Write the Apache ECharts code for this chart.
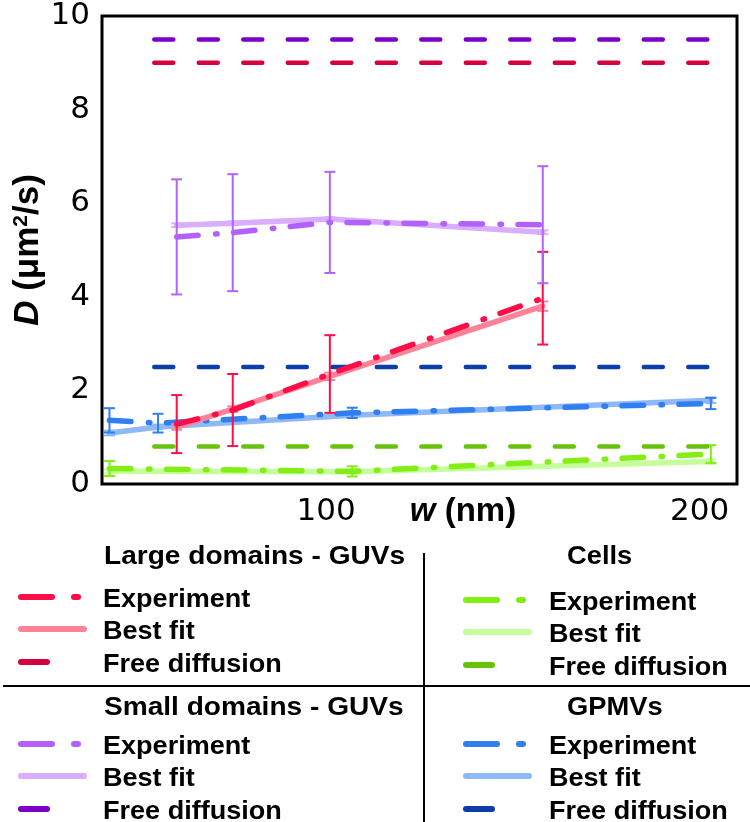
<!DOCTYPE html>
<html>
<head>
<meta charset="utf-8">
<script src="https://cdn.jsdelivr.net/npm/echarts@6/dist/echarts.min.js"></script>
<style>
html, body { margin: 0; padding: 0; background: #fff; }
#chart { width: 750px; height: 822px; }
</style>
</head>
<body>
<div id="chart"></div>
<script>
// w (nm) where each system was measured
const wGUV = [60, 75, 101, 158];
const wCells = [42, 107, 203];
const wGPMV = [42, 55, 107, 203];
const wFree = [54, 203];

// Large domains - GUVs
const largeExp = [1.28, 1.58, 2.35, 3.97];
const largeExpErr = [0.62, 0.77, 0.83, 0.99];
const largeFit = [1.22, 1.6, 2.3, 3.8];
const largeFitErr = [0.06, 0.06, 0.08, 0.1];
const largeFree = 9.0;

// Small domains - GUVs
const smallExp = [5.28, 5.37, 5.59, 5.54];
const smallExpErr = [1.23, 1.25, 1.08, 1.25];
const smallFit = [5.53, 5.57, 5.66, 5.38];
const smallFitErr = [0.04, 0.04, 0.04, 0.04];
const smallFree = 9.5;

// Cells
const cellExp = [0.33, 0.27, 0.64];
const cellExpErr = [0.16, 0.11, 0.19];
const cellFit = [0.27, 0.26, 0.48];
const cellFitErr = [0.04, 0.04, 0.05];
const cellFree = 0.8;

// GPMVs
const gpmvExp = [1.36, 1.3, 1.52, 1.72];
const gpmvExpErr = [0.26, 0.2, 0.11, 0.12];
const gpmvFit = [1.09, 1.22, 1.47, 1.79];
const gpmvFitErr = [0.05, 0.05, 0.05, 0.06];
const gpmvFree = 2.5;

const yTicks = [0, 2, 4, 6, 8, 10];
const xTickLabels = [100, 200];

const legendItems = ['Experiment', 'Best fit', 'Free diffusion'];
const legendTitles = ['Large domains - GUVs', 'Cells', 'Small domains - GUVs', 'GPMVs'];

// exp, fit, free colours per group
const colors = {
  large: ['#ff0d47', '#ff8299', '#d6003e'],
  small: ['#b261ff', '#d9adff', '#7a00c9'],
  cells: ['#82ee14', '#c4ff9a', '#66c30a'],
  gpmv: ['#2f7ff0', '#8eb8f6', '#0b3ea8']
};

const EXP_DASH = [21.5, 17.5, 1.5, 16.5];
const FREE_DASH = [19, 25.5];

function line(name, xs, ys, color, width, dash, z) {
  return {
    name, type: 'line', silent: true, z, symbol: 'none', animation: false,
    data: xs.map((x, i) => [x, ys[i]]),
    lineStyle: { color, width, type: dash || 'solid', cap: 'round' }
  };
}

function errBars(xs, ys, errs, color, z) {
  return {
    type: 'custom', silent: true, z, animation: false,
    data: xs.map((x, i) => [x, ys[i] - errs[i], ys[i] + errs[i]]),
    encode: { x: 0, y: [1, 2] },
    renderItem: (params, api) => {
      const top = api.coord([api.value(0), api.value(2)]);
      const bot = api.coord([api.value(0), api.value(1)]);
      const hw = 5.5;
      const style = { stroke: color, lineWidth: 2 };
      return {
        type: 'group',
        children: [
          { type: 'line', shape: { x1: top[0], y1: top[1], x2: bot[0], y2: bot[1] }, style },
          { type: 'line', shape: { x1: top[0] - hw, y1: top[1], x2: top[0] + hw, y2: top[1] }, style },
          { type: 'line', shape: { x1: bot[0] - hw, y1: bot[1], x2: bot[0] + hw, y2: bot[1] }, style }
        ]
      };
    }
  };
}

function group(key, xs, exp, expErr, fit, fitErr, free, z) {
  const c = colors[key];
  return [
    line(key + ' fit', xs, fit, c[1], 5.5, null, z),
    errBars(xs, fit, fitErr, c[1], z),
    line(key + ' exp', xs, exp, c[0], 5.5, EXP_DASH, z + 1),
    errBars(xs, exp, expErr, c[0], z + 1),
    line(key + ' free', wFree, [free, free], c[2], 4.5, FREE_DASH, z + 1)
  ];
}

const series = [
  ...group('cells', wCells, cellExp, cellExpErr, cellFit, cellFitErr, cellFree, 2),
  ...group('gpmv', wGPMV, gpmvExp, gpmvExpErr, gpmvFit, gpmvFitErr, gpmvFree, 4),
  ...group('large', wGUV, largeExp, largeExpErr, largeFit, largeFitErr, largeFree, 6),
  ...group('small', wGUV, smallExp, smallExpErr, smallFit, smallFitErr, smallFree, 8)
];

// legend drawn as graphic: 2x2 blocks with separators
const FONT = 'bold 26px "Liberation Sans", Arial, sans-serif';
const colX = [18, 463], textX = [103, 549], titleX = [104, 567];
const titleY = [557, 708];
const itemY = [[600, 632, 665], [603, 635, 668], [747, 779, 812], [747, 779, 812]];
const groupKeys = ['large', 'cells', 'small', 'gpmv'];
const graphic = [
  { type: 'line', shape: { x1: 424, y1: 553, x2: 424, y2: 822 }, style: { stroke: '#000', lineWidth: 2 } },
  { type: 'line', shape: { x1: 3, y1: 686, x2: 750, y2: 686 }, style: { stroke: '#000', lineWidth: 2 } }
];
legendTitles.forEach((title, g) => {
  const col = g % 2, row = Math.floor(g / 2);
  const c = colors[groupKeys[g]];
  graphic.push({
    type: 'text', x: titleX[col], y: titleY[row], scaleX: col === 0 ? 1.08 : 1.05,
    style: { text: title, font: FONT, fill: '#000', verticalAlign: 'middle', textVerticalAlign: 'middle' }
  });
  legendItems.forEach((item, k) => {
    const y = itemY[g][k];
    const x0 = colX[col];
    let sw;
    if (k === 0) sw = { x1: x0 + 3, x2: x0 + 60, dash: [31, 22, 4, 50], w: 6 };
    else if (k === 1) sw = { x1: x0 + 3, x2: x0 + 66, dash: null, w: 6 };
    else sw = { x1: x0 + 3, x2: x0 + 29, dash: null, w: 6 };
    graphic.push({
      type: 'line', shape: { x1: sw.x1, y1: y - 3, x2: sw.x2, y2: y - 3 },
      style: { stroke: c[k], lineWidth: sw.w, lineCap: 'round', lineDash: sw.dash }
    });
    graphic.push({
      type: 'text', x: textX[col], y: y, scaleX: 1.04,
      style: { text: item, font: FONT, fill: '#000', verticalAlign: 'middle', textVerticalAlign: 'middle' }
    });
  });
});

const chart = echarts.init(document.getElementById('chart'));
chart.setOption({
  animation: false,
  backgroundColor: '#fff',
  grid: { left: 102, right: 13, top: 16, bottom: 338, show: true, borderColor: '#000', borderWidth: 3, backgroundColor: 'transparent' },
  xAxis: {
    type: 'value', min: 40, max: 210, interval: 20,
    name: '{i|w} (nm)', nameLocation: 'middle', nameGap: 11, nameMoveOverlap: false,
    nameTextStyle: {
      fontFamily: '"Liberation Sans", Arial, sans-serif', fontWeight: 'bold', fontSize: 33, color: '#000',
      verticalAlign: 'top', padding: [0, 0, 0, 87],
      rich: { i: { fontStyle: 'italic', fontWeight: 'bold', fontSize: 33, fontFamily: '"Liberation Sans", Arial, sans-serif' } }
    },
    axisLine: { show: false }, axisTick: { show: false }, splitLine: { show: false },
    axisLabel: {
      margin: 12, fontFamily: '"DejaVu Sans", sans-serif', fontSize: 31, color: '#000',
      formatter: v => (xTickLabels.indexOf(v) >= 0 ? String(v) : '')
    }
  },
  yAxis: {
    type: 'value', min: yTicks[0], max: yTicks[yTicks.length - 1], interval: yTicks[1] - yTicks[0],
    name: '{i|D} (μm{s|2}/s)', nameLocation: 'middle', nameGap: 56, nameRotate: 90, nameMoveOverlap: false,
    nameTextStyle: {
      fontFamily: '"Liberation Sans", Arial, sans-serif', fontWeight: 'bold', fontSize: 35, color: '#000',
      rich: {
        i: { fontStyle: 'italic', fontWeight: 'bold', fontSize: 35, fontFamily: '"Liberation Sans", Arial, sans-serif' },
        s: { fontWeight: 'bold', fontSize: 21, verticalAlign: 'top', fontFamily: '"Liberation Sans", Arial, sans-serif' }
      }
    },
    axisLine: { show: false }, axisTick: { show: false }, splitLine: { show: false },
    axisLabel: { margin: 12, fontFamily: '"DejaVu Sans", sans-serif', fontSize: 31, color: '#000' }
  },
  series,
  graphic
});
</script>
</body>
</html>
